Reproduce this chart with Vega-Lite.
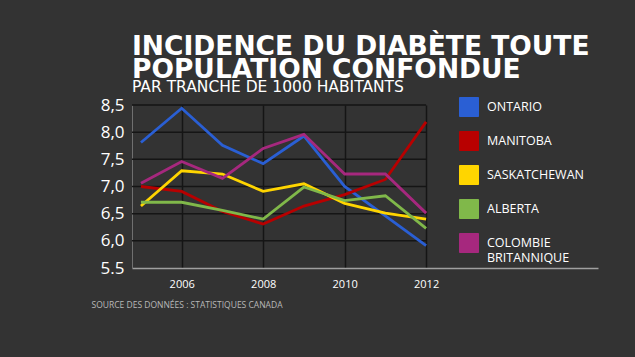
{
  "$schema": "https://vega.github.io/schema/vega-lite/v6.json",
  "width": 466,
  "height": 163,
  "autosize": {"type": "none"},
  "padding": {"left": 132, "top": 105, "right": 37, "bottom": 89},
  "background": "#333333",
  "config": {
    "view": {"stroke": null},
    "font": "Open Sans",
    "title": {"color": "white", "subtitleColor": "white"},
    "axisY": {
      "values": [5.5, 6.0, 6.5, 7.0, 7.5, 8.0, 8.5],
      "labelExpr": "datum.value == 5.5 ? '5.5' : replace(format(datum.value, '.1f'), '.', ',')",
      "labelOverlap": false,
      "grid": false,
      "ticks": false,
      "domainColor": "#707070",
      "labelColor": "white",
      "labelFontSize": 17,
      "labelPadding": 8,
      "title": null
    }
  },
  "title": {
    "text": ["INCIDENCE DU DIABÈTE TOUTE", "POPULATION CONFONDUE"],
    "subtitle": "PAR TRANCHE DE 1000 HABITANTS",
    "anchor": "start",
    "frame": "group",
    "font": "DejaVu Sans",
    "fontSize": 26.5,
    "fontWeight": "bold",
    "lineHeight": 23,
    "subtitleFont": "DejaVu Sans",
    "subtitleFontSize": 15.5,
    "subtitleFontWeight": "normal",
    "subtitlePadding": -4,
    "offset": 1
  },
  "datasets": {
    "grid": [{"v": 6.0}, {"v": 6.5}, {"v": 7.0}, {"v": 7.5}, {"v": 8.0}, {"v": 8.5}],
    "rates": [
      {"year": 2005, "province": "ONTARIO", "value": 7.81},
      {"year": 2006, "province": "ONTARIO", "value": 8.44},
      {"year": 2007, "province": "ONTARIO", "value": 7.76},
      {"year": 2008, "province": "ONTARIO", "value": 7.42},
      {"year": 2009, "province": "ONTARIO", "value": 7.93},
      {"year": 2010, "province": "ONTARIO", "value": 7.0},
      {"year": 2011, "province": "ONTARIO", "value": 6.46},
      {"year": 2012, "province": "ONTARIO", "value": 5.91},
      {"year": 2005, "province": "MANITOBA", "value": 7.0},
      {"year": 2006, "province": "MANITOBA", "value": 6.91},
      {"year": 2007, "province": "MANITOBA", "value": 6.54},
      {"year": 2008, "province": "MANITOBA", "value": 6.31},
      {"year": 2009, "province": "MANITOBA", "value": 6.64},
      {"year": 2010, "province": "MANITOBA", "value": 6.85},
      {"year": 2011, "province": "MANITOBA", "value": 7.13},
      {"year": 2012, "province": "MANITOBA", "value": 8.19},
      {"year": 2005, "province": "SASKATCHEWAN", "value": 6.64},
      {"year": 2006, "province": "SASKATCHEWAN", "value": 7.29},
      {"year": 2007, "province": "SASKATCHEWAN", "value": 7.23},
      {"year": 2008, "province": "SASKATCHEWAN", "value": 6.91},
      {"year": 2009, "province": "SASKATCHEWAN", "value": 7.05},
      {"year": 2010, "province": "SASKATCHEWAN", "value": 6.69},
      {"year": 2011, "province": "SASKATCHEWAN", "value": 6.51},
      {"year": 2012, "province": "SASKATCHEWAN", "value": 6.40},
      {"year": 2005, "province": "ALBERTA", "value": 6.71},
      {"year": 2006, "province": "ALBERTA", "value": 6.71},
      {"year": 2007, "province": "ALBERTA", "value": 6.56},
      {"year": 2008, "province": "ALBERTA", "value": 6.40},
      {"year": 2009, "province": "ALBERTA", "value": 6.99},
      {"year": 2010, "province": "ALBERTA", "value": 6.74},
      {"year": 2011, "province": "ALBERTA", "value": 6.83},
      {"year": 2012, "province": "ALBERTA", "value": 6.23},
      {"year": 2005, "province": "COLOMBIE BRITANNIQUE", "value": 7.06},
      {"year": 2006, "province": "COLOMBIE BRITANNIQUE", "value": 7.46},
      {"year": 2007, "province": "COLOMBIE BRITANNIQUE", "value": 7.15},
      {"year": 2008, "province": "COLOMBIE BRITANNIQUE", "value": 7.70},
      {"year": 2009, "province": "COLOMBIE BRITANNIQUE", "value": 7.96},
      {"year": 2010, "province": "COLOMBIE BRITANNIQUE", "value": 7.23},
      {"year": 2011, "province": "COLOMBIE BRITANNIQUE", "value": 7.23},
      {"year": 2012, "province": "COLOMBIE BRITANNIQUE", "value": 6.51}
    ]
  },
  "layer": [
    {
      "data": {"name": "grid"},
      "mark": {"type": "rule", "color": "#151515", "strokeWidth": 1.5},
      "encoding": {
        "y": {"field": "v", "type": "quantitative", "axis": {"labelOverlap": false, "values": [5.5, 6.0, 6.5, 7.0, 7.5, 8.0, 8.5]}},
        "x": {"datum": 2004.78, "type": "quantitative"},
        "x2": {"datum": 2012}
      }
    },
    {
      "data": {"name": "rates"},
      "mark": {"type": "line", "strokeWidth": 2.8},
      "encoding": {
        "x": {
          "field": "year",
          "type": "quantitative",
          "scale": {"domain": [2004.78, 2016.22], "nice": false, "zero": false},
          "axis": {
            "values": [2006, 2008, 2010, 2012],
            "format": "d",
            "grid": true,
            "gridColor": "#151515",
            "gridWidth": 1.5,
            "ticks": false,
            "domainColor": "#a0a0a0",
            "domainWidth": 1.5,
            "labelColor": "white",
            "labelFontSize": 11,
            "labelPadding": 10,
            "title": "SOURCE DES DONNÉES  : STATISTIQUES CANADA",
            "titleColor": "#b8b8b8",
            "titleFontSize": 8.5,
            "titleFontWeight": "normal",
            "titleAnchor": "start",
            "titleAlign": "left",
            "titleX": -41,
            "titleY": 32
          }
        },
        "y": {
          "field": "value",
          "type": "quantitative",
          "scale": {"domain": [5.5, 8.5], "nice": false, "zero": false},
          "axis": {"labelOverlap": false, "values": [5.5, 6.0, 6.5, 7.0, 7.5, 8.0, 8.5]}
        },
        "color": {
          "field": "province",
          "type": "nominal",
          "sort": ["ONTARIO", "MANITOBA", "SASKATCHEWAN", "ALBERTA", "COLOMBIE BRITANNIQUE"],
          "scale": {
            "domain": ["ONTARIO", "MANITOBA", "SASKATCHEWAN", "ALBERTA", "COLOMBIE BRITANNIQUE"],
            "range": ["#2a5fd4", "#b80000", "#ffd500", "#80b84a", "#a6287e"]
          },
          "legend": {
            "orient": "none",
            "legendX": 327,
            "legendY": -8,
            "title": null,
            "symbolType": "square",
            "symbolSize": 361,
            "symbolStrokeColor": "#9a9a9a",
            "symbolStrokeWidth": 1,
            "symbolOpacity": 1,
            "labelColor": "white",
            "labelFontSize": 12.5,
            "labelOffset": 8,
            "rowPadding": 10,
            "labelExpr": "datum.label == 'COLOMBIE BRITANNIQUE' ? ['COLOMBIE', 'BRITANNIQUE'] : datum.label",
            "encode": {
              "symbols": {
                "update": {
                  "fill": {"scale": "color", "field": "value"},
                  "stroke": {"value": "#9a9a9a"},
                  "strokeWidth": {"value": 1}
                }
              }
            }
          }
        }
      }
    }
  ]
}
